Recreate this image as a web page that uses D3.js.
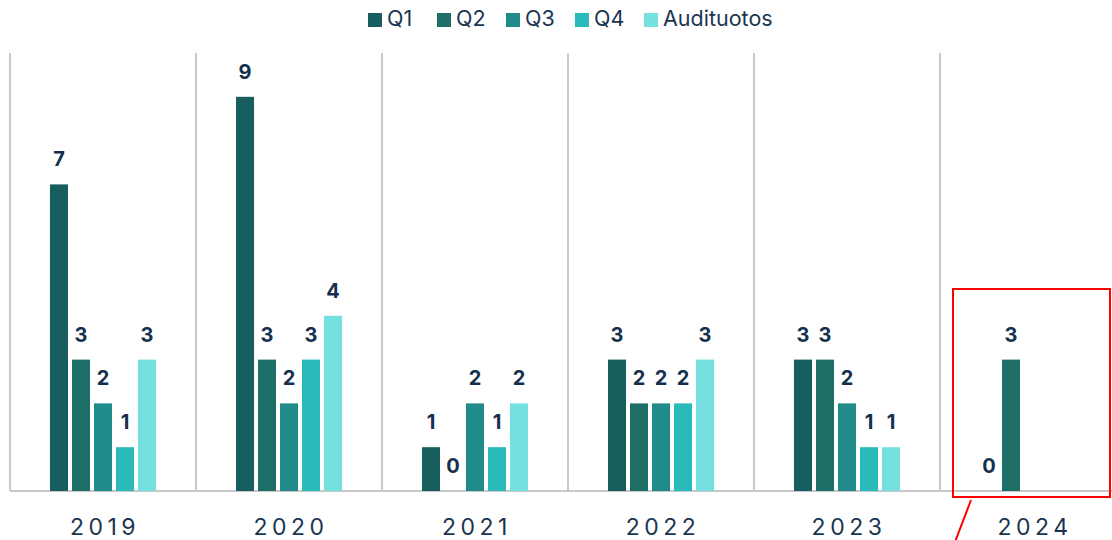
<!DOCTYPE html>
<html>
<head>
<meta charset="utf-8">
<script src="https://cdn.jsdelivr.net/npm/d3@7"></script>
<style>
  body { margin: 0; background: #fff; }
  svg { display: block; font-family: Inter, "Noto Sans", sans-serif; }
</style>
</head>
<body>
<svg id="chart" width="1112" height="540"></svg>
<script>
const years = ["2019", "2020", "2021", "2022", "2023", "2024"];
const seriesNames = ["Q1", "Q2", "Q3", "Q4", "Audituotos"];
const q1 = [7, 9, 1, 3, 3, 0];
const q2 = [3, 3, 0, 2, 3, 3];
const q3 = [2, 2, 2, 2, 2, null];
const q4 = [1, 3, 1, 2, 1, null];
const audituotos = [3, 4, 2, 3, 1, null];
const colors = ["#195e5f", "#1c6e66", "#208b8a", "#2bbaba", "#76e0e0"];

const allSeries = [q1, q2, q3, q4, audituotos];
const rows = years.map((yr, i) => ({
  year: yr,
  values: seriesNames.map((s, k) => ({ key: s, k: k, value: allSeries[k][i] }))
}));

const svg = d3.select("#chart");
const plotLeft = 10, plotTop = 53, plotBottom = 491;
const groupW = 186;

const x0 = d3.scaleBand().domain(years).range([plotLeft, plotLeft + groupW * years.length]).padding(0);
const x1 = d3.scaleBand().domain(seriesNames).range([38, 148]).paddingInner(0.18).paddingOuter(0.09);
const y = d3.scaleLinear().domain([0, 10]).range([plotBottom, plotTop]);

// separators
svg.selectAll("line.sep")
  .data(years)
  .enter()
  .append("line")
  .attr("class", "sep")
  .attr("x1", d => x0(d)).attr("x2", d => x0(d))
  .attr("y1", plotTop).attr("y2", plotBottom)
  .attr("stroke", "#c9c9c9").attr("stroke-width", 2);

// baseline
svg.append("line")
  .attr("x1", plotLeft).attr("x2", 1112)
  .attr("y1", plotBottom).attr("y2", plotBottom)
  .attr("stroke", "#c9c9c9").attr("stroke-width", 2);

const g = svg.selectAll("g.year")
  .data(rows)
  .enter()
  .append("g")
  .attr("class", "year")
  .attr("transform", d => "translate(" + x0(d.year) + ",0)");

g.selectAll("rect")
  .data(d => d.values.filter(v => v.value !== null))
  .enter()
  .append("rect")
  .attr("x", d => x1(d.key))
  .attr("y", d => y(d.value))
  .attr("width", x1.bandwidth())
  .attr("height", d => plotBottom - y(d.value))
  .attr("fill", d => colors[d.k]);

g.selectAll("text.val")
  .data(d => d.values.filter(v => v.value !== null))
  .enter()
  .append("text")
  .attr("class", "val")
  .text(d => d.value)
  .attr("x", d => x1(d.key) + x1.bandwidth() / 2)
  .attr("y", d => y(d.value) - 18)
  .attr("text-anchor", "middle")
  .attr("font-size", "20px")
  .attr("font-weight", "bold")
  .attr("fill", "#14304d");

// year labels
svg.selectAll("text.yearlab")
  .data(years)
  .enter()
  .append("text")
  .attr("class", "yearlab")
  .text(d => d)
  .attr("x", d => x0(d) + groupW / 2 + 2)
  .attr("y", 535)
  .attr("text-anchor", "middle")
  .attr("font-size", "23px")
  .attr("letter-spacing", "4.5px")
  .attr("fill", "#1b3550");

// legend
const legendX = [368, 437, 506, 575, 644];
const leg = svg.selectAll("g.leg")
  .data(seriesNames)
  .enter()
  .append("g")
  .attr("class", "leg")
  .attr("transform", (d, i) => "translate(" + legendX[i] + ",13)");
leg.append("rect")
  .attr("width", 14).attr("height", 14)
  .attr("fill", (d, i) => colors[i]);
leg.append("text")
  .text(d => d)
  .attr("x", 19)
  .attr("y", 13)
  .attr("font-size", "21.5px")
  .attr("fill", "#1b3550");

// highlight annotation
svg.append("rect")
  .attr("x", 953).attr("y", 289)
  .attr("width", 157).attr("height", 208)
  .attr("fill", "none")
  .attr("stroke", "#ff0000").attr("stroke-width", 2);
svg.append("line")
  .attr("x1", 971).attr("y1", 500)
  .attr("x2", 955).attr("y2", 542)
  .attr("stroke", "#ff0000").attr("stroke-width", 2);
</script>
</body>
</html>
